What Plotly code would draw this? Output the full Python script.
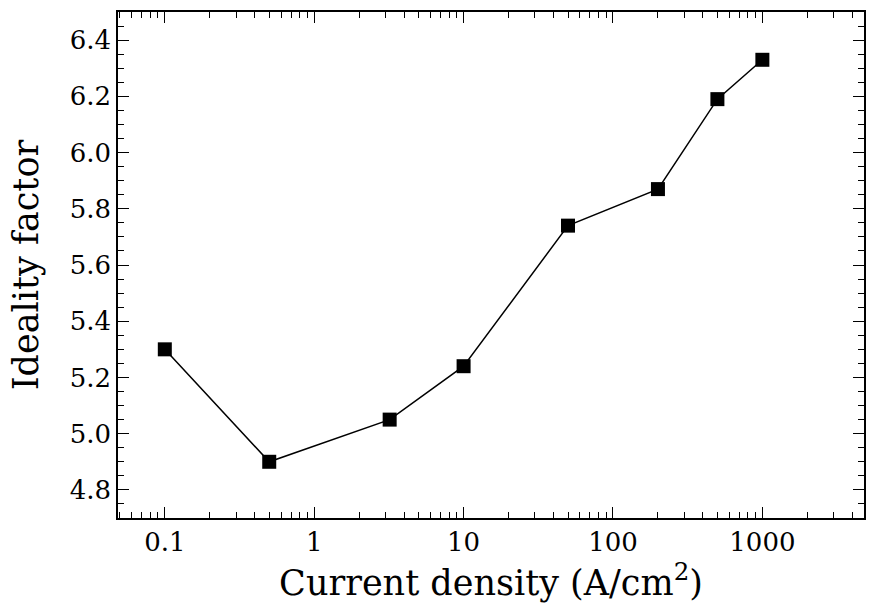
import plotly.graph_objects as go
import math

current_density = [0.1, 0.5, 3.2, 10, 50, 200, 500, 1000]
ideality = [5.30, 4.90, 5.05, 5.24, 5.74, 5.87, 6.19, 6.33]

x_major = [0.1, 1, 10, 100, 1000]
x_major_text = ["0.1", "1", "10", "100", "1000"]
x_minor = [m * 10 ** e for e in range(-2, 4) for m in range(2, 10)]
x_minor = [v for v in x_minor if 0.048 < v < 4800]

font = "DejaVu Serif, serif"

fig = go.Figure(go.Scatter(
    x=current_density, y=ideality, mode="lines+markers",
    line=dict(color="black", width=1.5),
    marker=dict(symbol="square", size=14, color="black"),
))

fig.update_layout(
    width=876, height=613,
    margin=dict(l=118, r=10, t=10, b=95),
    plot_bgcolor="white", paper_bgcolor="white",
    showlegend=False,
    font=dict(family=font, size=26, color="black"),
)
fig.update_xaxes(
    type="log", range=[math.log10(0.0486), math.log10(4790)],
    tickvals=x_major, ticktext=x_major_text,
    tickfont=dict(family=font, size=26, color="black"),
    ticks="inside", ticklen=11, tickwidth=1.3, tickcolor="black",
    showline=True, linecolor="black", linewidth=1.5, mirror="allticks",
    showgrid=False, zeroline=False,
    minor=dict(tickvals=x_minor, ticks="inside", ticklen=6, tickwidth=1.1, tickcolor="black", showgrid=False),
    title=dict(text="Current density (A/cm<sup>2</sup>)", font=dict(family=font, size=35, color="black"), standoff=14),
)
fig.update_yaxes(
    range=[4.7, 6.5], tick0=4.8, dtick=0.2, tickformat=".1f",
    tickfont=dict(family=font, size=26, color="black"),
    ticks="inside", ticklen=11, tickwidth=1.3, tickcolor="black",
    showline=True, linecolor="black", linewidth=1.5, mirror="allticks",
    showgrid=False, zeroline=False,
    minor=dict(dtick=0.05, ticks="inside", ticklen=6, tickwidth=1.1, tickcolor="black", showgrid=False),
    title=dict(text="Ideality factor", font=dict(family=font, size=35, color="black"), standoff=20),
)

fig.write_html("out.html")
